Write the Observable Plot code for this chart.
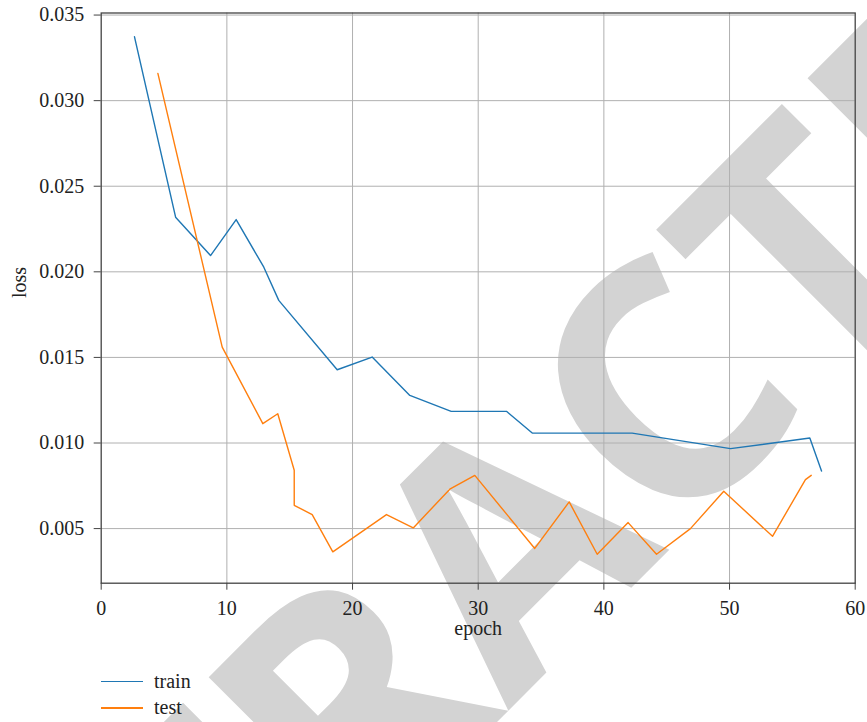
<!DOCTYPE html>
<html>
<head>
<meta charset="utf-8">
<script src="https://cdn.jsdelivr.net/npm/d3@7"></script>
<script src="https://cdn.jsdelivr.net/npm/@observablehq/plot@0.6"></script>
<style>
  html, body { margin: 0; padding: 0; background: #fff; }
  #wrap { position: relative; width: 867px; height: 722px; overflow: hidden; background: #fff; }
  #wm {
    position: absolute; left: 505px; top: 533px;
    transform: translate(-50%, -50%) rotate(-45deg);
    font-family: "Open Sans", "Noto Sans", sans-serif; font-weight: bold; font-size: 330px;
    color: #d3d3d3; white-space: nowrap; line-height: 1; z-index: 0;
  }
  #chart { position: absolute; left: 0; top: 0; z-index: 1; }
  #legend { position: absolute; left: 101px; top: 668px; z-index: 1;
    font-family: "Liberation Serif", "DejaVu Serif", "Noto Serif", serif; font-size: 20px; color: #222; }
  .item { display: flex; align-items: center; height: 26.6px; }
  .sw { width: 42px; height: 1.5px; margin-right: 11px; }
</style>
</head>
<body>
<div id="wrap">
  <div id="wm">RETRACTED</div>
  <div id="chart"></div>
  <div id="legend"></div>
</div>
<script>
// ---- data ----
const seriesNames = ["train", "test"];
const seriesColors = ["#1f77b4", "#ff7f0e"];

const trainEpoch = [2.65, 5.92, 8.70, 10.74, 12.94, 14.13, 18.78, 21.56, 24.56, 27.85, 32.25, 34.30, 42.25, 50.08, 56.39, 57.32];
const trainLoss  = [0.03373, 0.02319, 0.02095, 0.02305, 0.02027, 0.01833, 0.01428, 0.01502, 0.01278, 0.01185, 0.01185, 0.01058, 0.01058, 0.00967, 0.01029, 0.00836];

const testEpoch = [4.51, 9.63, 12.86, 14.05, 15.36, 15.36, 16.79, 18.43, 22.70, 24.83, 27.74, 29.73, 34.50, 37.24, 39.47, 41.93, 44.19, 46.89, 49.54, 53.42, 56.04, 56.50];
const testLoss  = [0.03159, 0.01560, 0.01113, 0.01171, 0.00841, 0.00636, 0.00582, 0.00364, 0.00582, 0.00504, 0.00730, 0.00811, 0.00384, 0.00656, 0.00350, 0.00535, 0.00350, 0.00500, 0.00718, 0.00455, 0.00786, 0.00811];

const xTicks = [0, 10, 20, 30, 40, 50, 60];
const yTicks = [0.005, 0.010, 0.015, 0.020, 0.025, 0.030, 0.035];
const xLabel = "epoch";
const yLabel = "loss";

// ---- build ----
const train = trainEpoch.map((e, i) => ({epoch: e, loss: trainLoss[i]}));
const test = testEpoch.map((e, i) => ({epoch: e, loss: testLoss[i]}));

const serif = "'Liberation Serif', 'DejaVu Serif', 'Noto Serif', serif";
const gridColor = "#b0b0b0";
const axisColor = "#444";

const plot = Plot.plot({
  width: 867,
  height: 660,
  marginLeft: 100.7,
  marginRight: 12.3,
  marginTop: 12.5,
  marginBottom: 77.3,
  style: `background: transparent; font-family: ${serif}; font-size: 20px; color: #222;`,
  x: {domain: [0, 60]},
  y: {domain: [0.00181, 0.03512]},
  marks: [
    Plot.gridX(xTicks.slice(1, -1), {stroke: gridColor, strokeOpacity: 1, strokeWidth: 1}),
    Plot.gridY(yTicks, {stroke: gridColor, strokeOpacity: 1, strokeWidth: 1}),
    Plot.line(train, {x: "epoch", y: "loss", stroke: seriesColors[0], strokeWidth: 1.4}),
    Plot.line(test, {x: "epoch", y: "loss", stroke: seriesColors[1], strokeWidth: 1.4}),
    Plot.frame({stroke: axisColor, strokeWidth: 1.3}),
    Plot.axisX(xTicks, {tickSize: 7, tickPadding: 11, label: null, stroke: axisColor, fontSize: 20, fontFamily: serif, tickFormat: d3.format("d")}),
    Plot.axisY(yTicks, {tickSize: 7, tickPadding: 10, label: null, stroke: axisColor, fontSize: 20, fontFamily: serif, tickFormat: d3.format(".3f")}),
    Plot.text([xLabel], {frameAnchor: "bottom", dy: 52, text: d => d, fontSize: 20, fontFamily: serif, fill: "#222"}),
    Plot.text([yLabel], {frameAnchor: "left", dx: -82, rotate: -90, text: d => d, fontSize: 20, fontFamily: serif, fill: "#222"})
  ]
});
document.getElementById("chart").appendChild(plot);

const legend = document.getElementById("legend");
seriesNames.forEach((name, i) => {
  const row = document.createElement("div");
  row.className = "item";
  const sw = document.createElement("span");
  sw.className = "sw";
  sw.style.background = seriesColors[i];
  const label = document.createElement("span");
  label.textContent = name;
  row.appendChild(sw);
  row.appendChild(label);
  legend.appendChild(row);
});
</script>
</body>
</html>
